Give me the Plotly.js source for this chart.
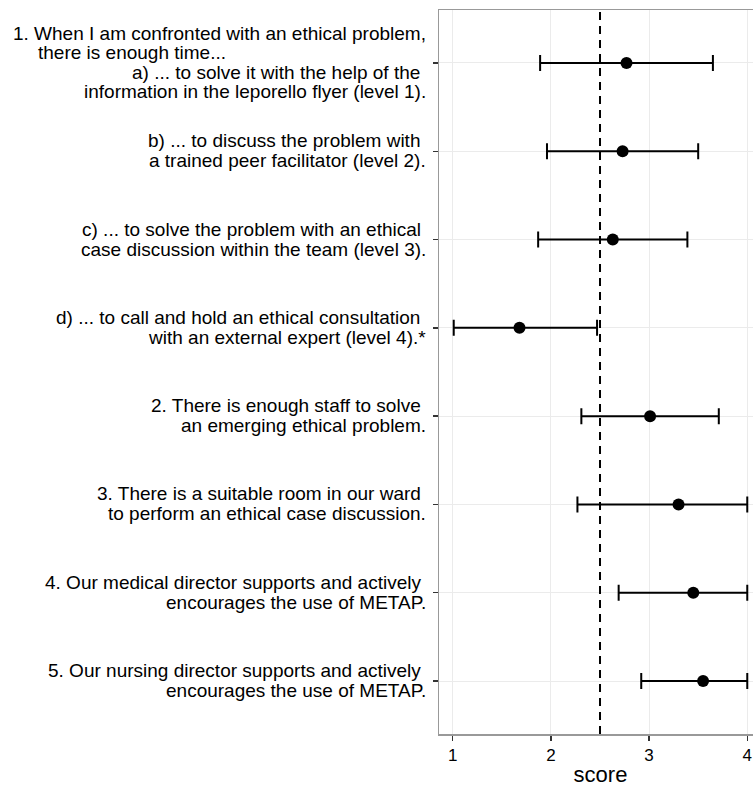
<!DOCTYPE html>
<html>
<head>
<meta charset="utf-8">
<script src="https://cdn.plot.ly/plotly-3.0.1.min.js"></script>
<style>
html, body { margin: 0; padding: 0; overflow: hidden; background: #fff; }
#chart { width: 765px; height: 787px; }
</style>
</head>
<body>
<div id="chart"></div>
<script>
// ---- data ----
var itemIds = ["Q1a", "Q1b", "Q1c", "Q1d", "Q2", "Q3", "Q4", "Q5"];
var meanScore = [2.77, 2.73, 2.63, 1.68, 3.01, 3.30, 3.45, 3.55];
var lowerCI = [1.89, 1.96, 1.87, 1.01, 2.31, 2.27, 2.69, 2.92];
var upperCI = [3.65, 3.50, 3.39, 2.47, 3.71, 4.00, 4.00, 4.00];
var headerLines = ["1. When I am confronted with an ethical problem,", "there is enough time..."];
var labelLine1 = [
  "a) ... to solve it with the help of the",
  "b) ... to discuss the problem with",
  "c) ... to solve the problem with an ethical",
  "d) ... to call and hold an ethical consultation",
  "2. There is enough staff to solve",
  "3. There is a suitable room in our ward",
  "4. Our medical director supports and actively",
  "5. Our nursing director supports and actively"
];
var labelLine2 = [
  "information in the leporello flyer (level 1).",
  "a trained peer facilitator (level 2).",
  "case discussion within the team (level 3).",
  "with an external expert (level 4).*",
  "an emerging ethical problem.",
  "to perform an ethical case discussion.",
  "encourages the use of METAP.",
  "encourages the use of METAP."
];
var refLine = 2.5;
var tickValues = [1, 2, 3, 4];
var xTitle = "score";

// ---- derived ----
var errPlus = upperCI.map(function (u, i) { return u - meanScore[i]; });
var errMinus = meanScore.map(function (m, i) { return m - lowerCI[i]; });

var FONT = "Liberation Sans, Arial, Helvetica, sans-serif";
var labelSize = 19;

var annotations = [];
function addLine(text, y, yshift, leftX) {
  var isLeft = (leftX !== undefined);
  annotations.push({
    text: text, xref: "paper", yref: "y", x: 0, y: y,
    xanchor: isLeft ? "left" : "right", yanchor: "middle",
    xshift: isLeft ? leftX - 439 : -11, yshift: yshift,
    align: isLeft ? "left" : "right", showarrow: false,
    font: { family: FONT, size: labelSize, color: "#000" }
  });
}
addLine(headerLines[0], itemIds[0], 29.5);
addLine(headerLines[1], itemIds[0], 10, 36);
for (var i = 0; i < itemIds.length; i++) {
  var up = (i === 0) ? -10 : 10.5;
  var dn = (i === 0) ? -29 : -9.5;
  addLine(labelLine1[i] + "\u00a0", itemIds[i], up);
  addLine(labelLine2[i], itemIds[i], dn);
}

var trace = {
  type: "scatter", mode: "markers",
  x: meanScore, y: itemIds,
  marker: { size: 12, color: "#000" },
  error_x: {
    type: "data", symmetric: false,
    array: errPlus, arrayminus: errMinus,
    color: "#000", thickness: 2, width: 8
  },
  hoverinfo: "x+y", cliponaxis: false
};

var layout = {
  width: 765, height: 787,
  margin: { l: 439, r: 3, t: 10, b: 53 },
  paper_bgcolor: "#fff", plot_bgcolor: "#fff",
  showlegend: false,
  font: { family: FONT, color: "#000" },
  xaxis: {
    range: [0.86, 4.15],
    tickvals: tickValues,
    ticks: "outside", ticklen: 5, tickwidth: 1.5, tickcolor: "#333",
    tickfont: { family: FONT, size: 17, color: "#000" },
    showgrid: true, gridcolor: "#ebebeb", gridwidth: 1,
    zeroline: false,
    showline: true, linecolor: "#999", linewidth: 1.5, mirror: true,
    title: { text: xTitle, font: { family: FONT, size: 22, color: "#000" }, standoff: 6 }
  },
  yaxis: {
    type: "category", categoryorder: "array", categoryarray: itemIds,
    range: [7.6, -0.6],
    showticklabels: false,
    ticks: "outside", ticklen: 5, tickwidth: 1.5, tickcolor: "#333",
    showgrid: true, gridcolor: "#ebebeb", gridwidth: 1,
    zeroline: false,
    showline: true, linecolor: "#999", linewidth: 1.5, mirror: true
  },
  shapes: [{
    type: "line", xref: "x", yref: "paper",
    x0: refLine, x1: refLine, y0: 0, y1: 1,
    line: { color: "#000", width: 2, dash: "8px,6px" },
    layer: "above"
  }],
  annotations: annotations
};

Plotly.newPlot("chart", [trace], layout, { staticPlot: true, displayModeBar: false });
</script>
</body>
</html>
